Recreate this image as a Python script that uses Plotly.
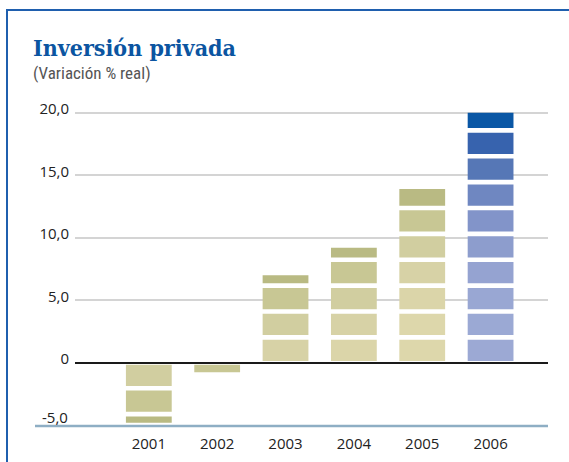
import plotly.graph_objects as go

# ---- data ----
years = ["2001", "2002", "2003", "2004", "2005", "2006"]
values = [-4.8, -0.75, 7.0, 9.2, 13.9, 20.0]
tick_vals = [-5, 0, 5, 10, 15, 20]
tick_text = ["-5,0", "0", "5,0", "10,0", "15,0", "20,0"]

# ---- styles ----
palette_name = ["olive", "olive", "olive", "olive", "olive", "blue"]
shade_offset = [0, 1, 0, 0, 0, 0]
palettes = {
    "olive": ["#b9ba83", "#c8c794", "#d1cea0", "#d7d2a6", "#dbd5a9", "#ddd7ab"],
    "blue": ["#0a57a5", "#3763ae", "#5677b6", "#6f87c1", "#8294c9",
             "#8d9dcd", "#95a3d1", "#99a7d3", "#9ba9d4", "#9ca9d4"],
}
PITCH, BLOCK, OFFSET = 2.07, 1.7, 0.15

W, H = 569, 462
ML, MR, MT, MB = 75, 21, 101, 36
PW, PH = W - ML - MR, H - MT - MB


def px(x):
    return (x - ML) / PW


def py(y):
    return (H - MB - y) / PH


# build segmented blocks from values
xs, bases, heights, colors = [], [], [], []
for i, v in enumerate(values):
    sign = 1 if v >= 0 else -1
    mag = abs(v)
    segs = []
    s = OFFSET
    while s < mag:
        e = min(s + BLOCK, mag)
        segs.append((s, e))
        s += PITCH
    pal = palettes[palette_name[i]]
    n = len(segs)
    for k, (s, e) in enumerate(segs):
        rank = n - 1 - k + shade_offset[i]
        col = pal[min(rank, len(pal) - 1)]
        xs.append(i)
        if sign > 0:
            bases.append(s)
        else:
            bases.append(-e)
        heights.append(e - s)
        colors.append(col)

fig = go.Figure()
fig.add_trace(go.Bar(
    x=xs, y=heights, base=bases, width=0.67,
    marker=dict(color=colors, line=dict(width=0)),
    hoverinfo="skip", showlegend=False,
))

# lowest label sits above the baseline: draw it as an annotation
axis_text = [t if v != min(tick_vals) else "" for v, t in zip(tick_vals, tick_text)]
low_label = tick_text[tick_vals.index(min(tick_vals))]

fig.update_layout(
    width=W, height=H,
    margin=dict(l=ML, r=MR, t=MT, b=MB, autoexpand=False),
    paper_bgcolor="white", plot_bgcolor="white",
    barmode="overlay",
    font=dict(family="Open Sans, Roboto, sans-serif", size=15, color="#222"),
    xaxis=dict(
        range=[-1.08, 5.84], tickvals=list(range(len(years))), ticktext=years,
        showgrid=False, zeroline=False, showline=False, ticks="",
        ticklabelstandoff=7, tickfont=dict(size=15, color="#222"),
        fixedrange=True, automargin=False,
    ),
    yaxis=dict(
        range=[-5.06, 20.94], tickvals=tick_vals, ticktext=axis_text,
        showgrid=True, gridcolor="#d4d4d4", gridwidth=1.5,
        zeroline=True, zerolinecolor="#1a1a1a", zerolinewidth=2,
        showline=False, ticks="", ticklabelshift=-4, ticklabelstandoff=5,
        tickfont=dict(size=15, color="#222"), fixedrange=True,
        automargin=False,
    ),
    shapes=[
        # bottom blue-gray baseline
        dict(type="line", xref="paper", yref="paper",
             x0=px(35), x1=px(548), y0=py(426), y1=py(426),
             line=dict(color="#8eaec4", width=2.5), layer="above"),
        # frame: left and top
        dict(type="line", xref="paper", yref="paper",
             x0=px(7), x1=px(7), y0=py(10), y1=py(H + 2),
             line=dict(color="#1f5fae", width=2), layer="above"),
        dict(type="line", xref="paper", yref="paper",
             x0=px(6), x1=px(W + 2), y0=py(10), y1=py(10),
             line=dict(color="#1f5fae", width=2), layer="above"),
    ],
    annotations=[
        dict(text="<b>Inversión privada</b>", xref="paper", yref="paper",
             x=px(31), y=py(47), xanchor="left", yanchor="middle",
             showarrow=False,
             font=dict(family="DejaVu Serif Condensed, DejaVu Serif, serif",
                       size=23, color="#0b55a1")),
        dict(text="(Variación % real)", xref="paper", yref="paper",
             x=px(31), y=py(73), xanchor="left", yanchor="middle",
             showarrow=False,
             font=dict(family="Liberation Sans Narrow, Roboto Condensed, Roboto, sans-serif",
                       size=17, color="#555")),
        dict(text=low_label, xref="paper", yref="y",
             x=0, y=min(tick_vals), xanchor="right", yanchor="middle",
             xshift=-5, yshift=8, showarrow=False,
             font=dict(family="Open Sans, Roboto, sans-serif", size=15, color="#222")),
    ],
)

fig.write_html("out.html", config={"displayModeBar": False},
               post_script="document.body.style.margin='0';")
